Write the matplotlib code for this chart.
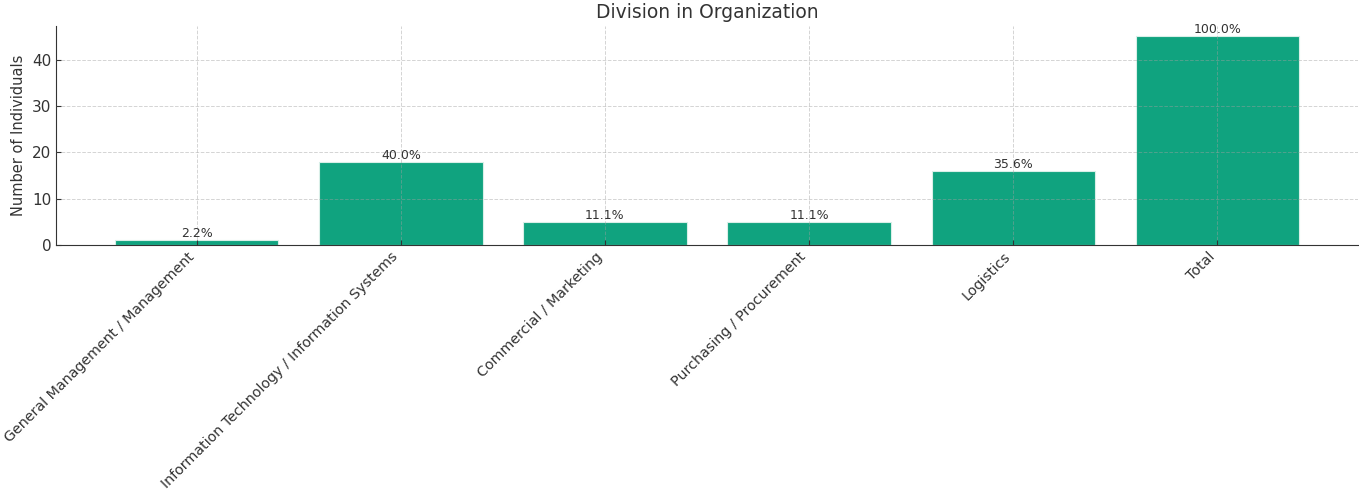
import matplotlib.pyplot as plt

divisions = [
    "General Management / Management",
    "Information Technology / Information Systems",
    "Commercial / Marketing",
    "Purchasing / Procurement",
    "Logistics",
    "Total",
]
counts = [1, 18, 5, 5, 16, 45]
total = counts[-1]

fig, ax = plt.subplots(figsize=(13.59, 4.9), dpi=100)
fig.subplots_adjust(left=0.0412, right=0.9993, bottom=0.5, top=0.947)

bars = ax.bar(divisions, counts, color="#10a37f", edgecolor="#d9efe8", linewidth=0.8, zorder=2)

for bar, c in zip(bars, counts):
    ax.text(bar.get_x() + bar.get_width() / 2, bar.get_height(), f"{c / total * 100:.1f}%",
            ha="center", va="bottom", fontsize=9, color="#333333")

ax.set_title("Division in Organization", fontsize=13.5, color="#333333")
ax.set_ylabel("Number of Individuals", fontsize=10.5, color="#333333")
ax.grid(True, linestyle="--", color="#a0a0a0", alpha=0.45, linewidth=0.7, zorder=3)
ax.set_axisbelow(False)
ax.spines["top"].set_visible(False)
ax.spines["right"].set_visible(False)
ax.spines["left"].set_color("#333333")
ax.spines["bottom"].set_color("#333333")
ax.tick_params(direction="in", labelsize=11, colors="#333333")
plt.setp(ax.get_xticklabels(), rotation=45, ha="right", fontsize=10.3)

fig.savefig("out.png", dpi=100)
